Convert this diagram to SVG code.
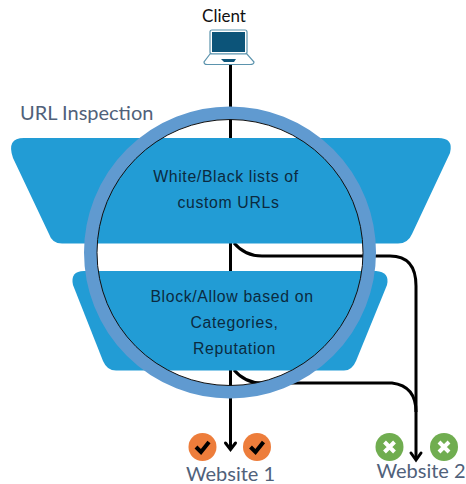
<svg xmlns="http://www.w3.org/2000/svg" width="466" height="484" viewBox="0 0 466 484">
<style>
text{font-family:"Lato","Open Sans","Liberation Sans",sans-serif}
.lbl{fill:#50617a;font-size:20px}
.in{fill:#0b2a40;font-size:15.800px;letter-spacing:.65px;text-anchor:middle;font-family:"Liberation Sans",Arial,sans-serif}
.w{fill:none;stroke:#000;stroke-width:3}
.trap{fill:#229cd5}
</style>
<g id="connectors">
<path class="w" d="M230.500 64V448"/>
<path d="M225.500 443L230.500 449.500L235.500 443" fill="none" stroke="#000" stroke-width="3" stroke-linecap="round"/>
<path class="w" d="M234 243Q245 256 262 256H390Q416 256 416 286V458"/>
<path class="w" d="M234 370Q245 383 262 383H392Q416 386 416 412"/>
<path d="M411 453L416 460L421 453" fill="none" stroke="#000" stroke-width="3" stroke-linecap="round"/>
</g>
<g id="tier1"><path class="trap" d="M24 138H438Q454 138 450 153L412 234Q408 243.500 398 243.500H62Q52 243.500 49 234L13 158Q6 138 24 138Z"/></g>
<g id="tier2"><path class="trap" d="M84 271H376Q390 272 387 285L356 361Q352 370.500 344 370.500H116Q107 370.500 103 361L73 285Q70 271 84 271Z"/></g>
<g id="ring"><circle cx="230" cy="252.500" r="139.500" fill="none" stroke="#609ad0" stroke-width="13"/><circle cx="230" cy="252.500" r="133" fill="none" stroke="#111" stroke-width="1"/></g>
<g id="client">
<text x="224" y="22" font-size="17" fill="#111" text-anchor="middle">Client</text>
<rect x="210" y="30" width="37" height="24" rx="2" fill="#fff" stroke="#5b93ad" stroke-width="1.200"/>
<rect x="212" y="32" width="33" height="20" fill="#0c5479"/>
<path d="M210 54L204 62Q204 64.500 207 64.500H250Q254 64.500 254 62L247 54Z" fill="#fff" stroke="#5b93ad" stroke-width="1.200"/>
<path d="M221 59H236L234 62H224Z" fill="#0c5479"/>
</g>
<g id="label-url"><text class="lbl" x="20" y="120">URL Inspection</text></g>
<g id="text1"><text class="in" x="226" y="181.500">White/Black lists of</text><text class="in" x="228.500" y="207.500">custom URLs</text></g>
<g id="text2"><text class="in" x="232" y="302">Block/Allow based on</text><text class="in" x="234.500" y="328">Categories,</text><text class="in" x="234.500" y="354">Reputation</text></g>
<g id="website1">
<circle cx="202.500" cy="447" r="14" fill="#ed7d3b"/><path d="M196 447L201 452L209 442" fill="none" stroke="#000" stroke-width="4"/>
<circle cx="257" cy="447" r="14" fill="#ed7d3b"/><path d="M250.500 447L255.500 452L263.500 442" fill="none" stroke="#000" stroke-width="4"/>
<text class="lbl" x="230.500" y="481" text-anchor="middle">Website 1</text>
</g>
<g id="website2">
<circle cx="389.500" cy="447" r="14" fill="#70ad50"/><path d="M384.500 442L394.500 452M394.500 442L384.500 452" stroke="#fff" stroke-width="4"/>
<circle cx="444" cy="447" r="14" fill="#70ad50"/><path d="M439 442L449 452M449 442L439 452" stroke="#fff" stroke-width="4"/>
<text class="lbl" x="421" y="478" text-anchor="middle">Website 2</text>
</g>
</svg>
